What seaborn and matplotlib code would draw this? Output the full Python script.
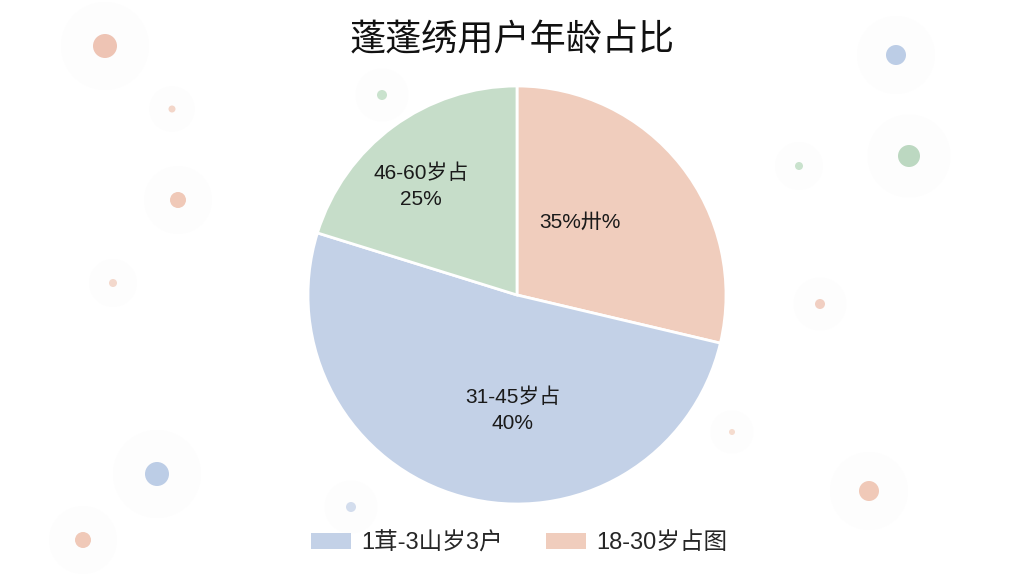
import matplotlib
matplotlib.use("Agg")
import matplotlib.pyplot as plt
from matplotlib.patches import Circle, Patch
import seaborn as sns

# data (slice sizes from the drawn angles, labels as printed)
groups = ["18-30岁", "31-45岁", "46-60岁"]
shares = [28.7, 51.1, 20.2]
slice_labels = ["35%卅%", "31-45岁占\n40%", "46-60岁占\n25%"]
label_pos = [(0.30, 0.35), (-0.02, -0.55), (-0.46, 0.52)]
legend_labels = ["1茸-3山岁3户", "18-30岁占图"]
title = "蓬蓬绣用户年龄占比"

colors = ["#f0cdbd", "#c3d1e7", "#c6ddc9"]

# decorative background dots: x, y (px), radius, colour
dot_x = [105, 172, 178, 113, 896, 909, 799, 820, 157, 83, 351, 732, 869, 382]
dot_y = [46, 109, 200, 283, 55, 156, 166, 304, 474, 540, 507, 432, 491, 95]
dot_r = [12, 3.5, 8, 4, 10, 11, 4, 5, 12, 8, 5, 3, 10, 5]
dot_c = ["#eec4b4", "#f3d6c9", "#f0c9b8", "#f3d8cc", "#bccde6", "#bcd8c1",
         "#c9e2cd", "#f1cfc2", "#bccde6", "#f0c9b8", "#d3dded", "#f5dccf",
         "#f0c9b8", "#c9e2cd"]

sns.set_theme(style="white")
plt.rcParams["font.family"] = ["Liberation Sans", "Noto Sans CJK SC", "DejaVu Sans"]

fig = plt.figure(figsize=(10.24, 5.76), dpi=100)
fig.patch.set_facecolor("white")

# background layer in pixel units
bg = fig.add_axes([0, 0, 1, 1])
bg.set_xlim(0, 1024)
bg.set_ylim(576, 0)
bg.axis("off")
for x, y, r, c in zip(dot_x, dot_y, dot_r, dot_c):
    bg.add_patch(Circle((x, y), r * 2.5 + 14, color="#fdfdfd", lw=0))
    bg.add_patch(Circle((x, y), r, color=c, lw=0))

# pie
cx, cy, rad = 517, 295, 209
ax = fig.add_axes([(cx - rad) / 1024, (576 - cy - rad) / 576, 2 * rad / 1024, 2 * rad / 576])
ax.pie(shares, colors=colors, startangle=90, counterclock=False, radius=1,
       wedgeprops=dict(edgecolor="white", linewidth=2))
ax.set_xlim(-1, 1)
ax.set_ylim(-1, 1)
ax.set_aspect("equal")
ax.axis("off")
for txt, (tx, ty) in zip(slice_labels, label_pos):
    ax.text(tx, ty, txt, ha="center", va="center", fontsize=15, color="#1a1a1a",
            linespacing=1.45)

fig.text(0.5, 1 - 40 / 576, title, ha="center", va="center", fontsize=26,
         color="#111111", family=["Noto Sans CJK SC", "DejaVu Sans"])

handles = [Patch(facecolor=colors[1], edgecolor="none"),
           Patch(facecolor=colors[0], edgecolor="none")]
fig.legend(handles, legend_labels, loc="center", bbox_to_anchor=(0.507, 1 - 543 / 576),
           ncol=2, frameon=False, fontsize=17, handlelength=1.7, handleheight=0.7,
           columnspacing=1.8, handletextpad=0.45)

fig.savefig("out.png", dpi=100, facecolor="white")
